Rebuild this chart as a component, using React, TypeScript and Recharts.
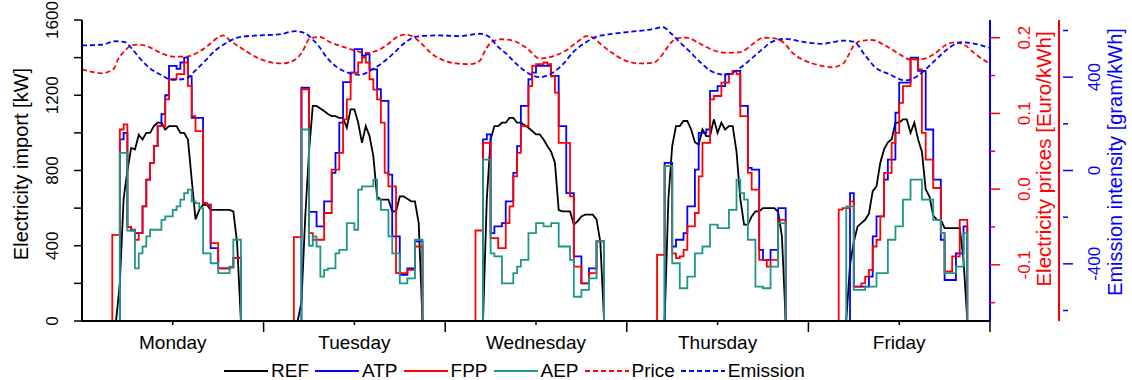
import { Line, LineChart, XAxis, YAxis } from "recharts";

const FONT = '"Liberation Sans", Arial, sans-serif';
const TEAL = "#1f968c";

const PLOT_LEFT = 82;
const PLOT_RIGHT = 990;
const PRICE_AXIS_W = 73;
const EMIS_AXIS_X = PLOT_RIGHT + PRICE_AXIS_W;

const dayNames = ["Monday", "Tuesday", "Wednesday", "Thursday", "Friday"];

// every day is sampled on a half-hour grid from 03:30 to 21:00 (36 values)
const gridStart = 3.5;
const gridStep = 0.5;

// REF
const refMon = [0, 0, 0, 200, 650, 800, 920, 912, 990, 965, 1000, 1000, 1036, 1054, 1054, 1018, 1036, 1036, 1036, 1000, 1000, 965, 752, 540, 591, 618, 618, 591, 591, 591, 591, 591, 591, 583, 414, 0];
const refTue = [0, 0, 0, 100, 550, 900, 1143, 1143, 1130, 1116, 1100, 1089, 1089, 1080, 1080, 1027, 1125, 1125, 1054, 947, 1036, 983, 876, 660, 645, 645, 645, 583, 583, 662, 662, 650, 636, 636, 520, 0];
const refWed = [0, 0, 0, 0, 650, 965, 1036, 1036, 1054, 1054, 1080, 1080, 1054, 1054, 1040, 1027, 1010, 992, 992, 965, 930, 900, 841, 590, 583, 583, 583, 512, 530, 556, 565, 565, 565, 540, 420, 0];
const refThu = [0, 0, 0, 0, 650, 930, 1036, 1036, 1063, 1063, 1018, 950, 938, 1018, 983, 983, 1072, 1000, 1054, 1018, 1036, 1036, 900, 650, 512, 512, 556, 583, 583, 600, 600, 600, 600, 580, 450, 0];
const refFri = [0, 0, 0, 0, 300, 420, 503, 520, 538, 570, 690, 716, 841, 912, 950, 965, 1054, 1054, 1072, 1072, 1000, 1054, 965, 900, 700, 662, 560, 538, 538, 494, 494, 494, 494, 494, 325, 0];

// ATP
const atpMon = [0, 0, 0, 965, 1000, 500, 480, 467, 467, 609, 752, 841, 930, 1036, 1100, 1200, 1356, 1356, 1340, 1374, 1400, 1300, 1080, 1080, 1080, 627, 618, 387, 387, 280, 280, 280, 285, 334, 334, 0];
const atpTue = [0, 0, 0, 1240, 1240, 580, 580, 503, 503, 636, 636, 787, 894, 1054, 1270, 1270, 1320, 1445, 1445, 1410, 1418, 1338, 1338, 1232, 1170, 1170, 778, 450, 450, 245, 245, 280, 280, 423, 423, 0];
const atpWed = [0, 0, 0, 965, 992, 467, 503, 503, 520, 636, 636, 787, 930, 1143, 1143, 1285, 1320, 1356, 1356, 1356, 1356, 1303, 1303, 1036, 1036, 680, 680, 343, 343, 200, 200, 280, 280, 423, 423, 0];
const atpThu = [0, 0, 0, 841, 841, 396, 432, 432, 467, 609, 609, 805, 1000, 1000, 1018, 1223, 1223, 1249, 1249, 1312, 1312, 1330, 1330, 1143, 1143, 814, 805, 805, 378, 325, 325, 378, 378, 600, 600, 0];
const atpFri = [0, 0, 0, 0, 680, 183, 183, 183, 183, 236, 450, 556, 556, 752, 858, 858, 1107, 1267, 1267, 1267, 1400, 1400, 1330, 1330, 1018, 1018, 752, 752, 432, 218, 218, 218, 360, 360, 503, 0];

// FPP
const fppMon = [0, 458, 458, 1018, 1045, 500, 485, 432, 467, 609, 752, 841, 930, 1036, 1036, 1178, 1285, 1285, 1312, 1312, 1374, 1250, 1089, 1009, 1009, 627, 618, 414, 414, 280, 280, 280, 285, 334, 334, 0];
const fppTue = [0, 446, 446, 1232, 1232, 467, 432, 432, 432, 574, 574, 805, 805, 894, 1072, 1178, 1320, 1320, 1374, 1400, 1374, 1285, 1230, 1178, 1054, 787, 716, 716, 254, 254, 254, 272, 272, 396, 396, 0];
const fppWed = [0, 481, 481, 947, 947, 441, 441, 387, 387, 520, 609, 769, 894, 1036, 1036, 1249, 1356, 1365, 1365, 1374, 1365, 1300, 1214, 947, 947, 947, 662, 289, 289, 200, 200, 254, 254, 423, 423, 0];
const fppThu = [0, 352, 352, 823, 823, 360, 334, 343, 378, 503, 503, 574, 769, 947, 947, 1178, 1196, 1196, 1267, 1267, 1312, 1330, 1312, 1089, 1089, 787, 698, 698, 325, 325, 289, 325, 325, 538, 538, 0];
const fppFri = [0, 592, 600, 600, 636, 183, 183, 200, 236, 272, 396, 432, 556, 787, 787, 947, 1000, 1160, 1249, 1249, 1392, 1392, 1338, 1000, 858, 858, 707, 707, 467, 263, 263, 343, 343, 538, 538, 0];

// AEP
const aepMon = [0, 0, 0, 894, 894, 480, 480, 280, 360, 396, 450, 485, 485, 485, 538, 556, 556, 590, 609, 645, 680, 698, 636, 627, 600, 360, 360, 307, 307, 254, 254, 254, 289, 432, 432, 0];
const aepTue = [0, 0, 0, 1018, 1018, 400, 450, 396, 236, 272, 280, 280, 360, 378, 378, 520, 520, 485, 698, 716, 716, 716, 752, 645, 591, 591, 450, 360, 360, 200, 200, 227, 227, 432, 432, 0];
const aepWed = [0, 0, 0, 858, 858, 360, 343, 343, 200, 200, 200, 254, 289, 325, 325, 467, 467, 520, 520, 503, 503, 520, 520, 396, 396, 396, 325, 129, 129, 165, 165, 227, 227, 423, 423, 0];
const aepThu = [0, 0, 0, 823, 823, 307, 307, 174, 174, 236, 236, 360, 360, 396, 396, 512, 512, 494, 494, 494, 591, 591, 752, 680, 645, 432, 432, 183, 183, 174, 174, 289, 289, 520, 520, 0];
const aepFri = [0, 0, 0, 609, 609, 165, 165, 165, 183, 183, 183, 254, 254, 254, 432, 432, 503, 503, 645, 645, 752, 752, 752, 645, 645, 645, 538, 538, 467, 254, 254, 254, 289, 289, 467, 0];

// price [Euro/kWh], hours since Monday 00:00
const priceHours = [0, 1.3, 2.6, 4.2, 4.8, 5.5, 6.6, 7.5, 8.8, 10.6, 12.3, 13.7, 15.4, 16.7, 18.1, 18.7, 19.6, 21.1, 22.9, 24.7, 26.4, 28, 29.1, 30.1, 31.4, 32.8, 34.5, 36.3, 37.6, 38.9, 40.5, 41.8, 42.7, 43.8, 45.1, 46.2, 47.8, 49.5, 51.3, 52.6, 53.3, 54.1, 55.5, 57, 58.8, 60.5, 62.3, 64, 65.4, 66.7, 67.6, 68.5, 70.2, 72, 73.7, 75.5, 76.8, 77.7, 78.6, 79.9, 81.7, 83.4, 85.2, 87, 88.7, 90, 91.6, 92.9, 93.8, 95.5, 97.3, 99.1, 100.6, 101.3, 102, 103, 104.4, 106.1, 107.9, 109.6, 111.4, 112.7, 114.1, 115.4, 116.7, 118, 119.6, 120];
const priceValues = [0.158, 0.155, 0.153, 0.159, 0.172, 0.181, 0.19, 0.191, 0.188, 0.179, 0.175, 0.175, 0.181, 0.19, 0.201, 0.203, 0.196, 0.186, 0.175, 0.168, 0.166, 0.17, 0.181, 0.199, 0.201, 0.194, 0.188, 0.1825, 0.18, 0.1825, 0.192, 0.202, 0.204, 0.201, 0.19, 0.179, 0.17, 0.166, 0.165, 0.17, 0.1835, 0.194, 0.198, 0.196, 0.186, 0.1725, 0.1756, 0.1835, 0.194, 0.202, 0.2, 0.192, 0.179, 0.169, 0.166, 0.167, 0.179, 0.192, 0.199, 0.2, 0.192, 0.1835, 0.18, 0.181, 0.192, 0.2, 0.199, 0.192, 0.181, 0.17, 0.164, 0.161, 0.166, 0.177, 0.19, 0.196, 0.197, 0.19, 0.179, 0.171, 0.1725, 0.179, 0.19, 0.194, 0.19, 0.179, 0.168, 0.166];

// emission intensity [gram/kWh]
const emissionHours = [0, 2.6, 4.4, 5.7, 6.6, 7.7, 8.8, 10.6, 11.9, 13.7, 15, 16.3, 17.6, 18.9, 20.7, 23.3, 26, 28.2, 29.5, 30.4, 31.4, 32.3, 33.7, 35, 36.7, 38.5, 39.8, 41.1, 42.5, 44.2, 46.9, 50, 52.6, 53.9, 54.8, 56.1, 57.4, 58.8, 60.5, 62.3, 63.6, 64.9, 66.3, 68, 70.2, 72.9, 75.1, 76.8, 77.9, 79, 80.4, 81.7, 83, 84.8, 86.1, 87.4, 88.7, 90, 91.1, 92.9, 95.5, 97.7, 100.8, 102.1, 103.5, 104.8, 106.6, 108.8, 110.5, 111.8, 113.2, 114.7, 116.3, 118, 120];
const emissionValues = [536, 539, 554, 550, 522, 479, 443, 407, 389, 393, 429, 471, 514, 543, 571, 579, 583, 597, 588, 564, 528, 486, 443, 421, 410, 436, 464, 500, 543, 574, 579, 576, 586, 571, 536, 500, 457, 421, 400, 421, 457, 507, 543, 574, 586, 596, 604, 614, 586, 550, 507, 464, 429, 411, 421, 450, 486, 522, 550, 564, 550, 543, 557, 550, 493, 443, 414, 386, 407, 443, 486, 528, 550, 543, 525];

const kwTicks = [0, 200, 400, 600, 800, 1000, 1200, 1400, 1600];
const priceTicks = [-0.15, -0.1, -0.05, 0, 0.05, 0.1, 0.15, 0.2];
const emissionTicks = [-600, -400, -200, 0, 200, 400, 600];
const dayTicks = [12, 24, 36, 48, 60, 72, 84, 96, 108, 120];

const refDays = [refMon, refTue, refWed, refThu, refFri];
const atpDays = [atpMon, atpTue, atpWed, atpThu, atpFri];
const fppDays = [fppMon, fppTue, fppWed, fppThu, fppFri];
const aepDays = [aepMon, aepTue, aepWed, aepThu, aepFri];

function valueAt(days: number[][], t: number) {
  const d = Math.floor(t / 24);
  const arr = days[d];
  const i = Math.round((t - d * 24 - gridStart) / gridStep);
  if (!arr || i < 0 || i >= arr.length) return 0;
  return arr[i];
}

const weekData: { t: number; REF: number; ATP: number; FPP: number; AEP: number }[] = [];
for (let k = 0; k <= 240; k++) {
  const t = k * gridStep;
  weekData.push({
    t,
    REF: valueAt(refDays, t),
    ATP: valueAt(atpDays, t),
    FPP: valueAt(fppDays, t),
    AEP: valueAt(aepDays, t),
  });
}

const priceData = priceHours.map((t, i) => ({ t, price: priceValues[i] }));
const emissionData = emissionHours.map((t, i) => ({ t, emission: emissionValues[i] }));

const legendItems = [
  { name: "REF", color: "#000000", dash: undefined },
  { name: "ATP", color: "#0000ff", dash: undefined },
  { name: "FPP", color: "#ff0000", dash: undefined },
  { name: "AEP", color: TEAL, dash: undefined },
  { name: "Price", color: "#ff0000", dash: "5 3" },
  { name: "Emission", color: "#0000ff", dash: "5 3" },
];

function rotLabel(x: number, y: number, text: string, color: string, size: number) {
  return (
    <text
      x={x}
      y={y}
      transform={`rotate(-90 ${x} ${y})`}
      textAnchor="middle"
      fontSize={size}
      fontFamily={FONT}
      fill={color}
    >
      {text}
    </text>
  );
}

function KwTick(props: any) {
  const { y, payload } = props;
  return (
    <g>
      <line x1={PLOT_LEFT - 8} x2={PLOT_LEFT} y1={y} y2={y} stroke="#000" strokeWidth={1.5} />
      {payload.value % 400 === 0 && rotLabel(58, y, String(payload.value), "#000", 17)}
    </g>
  );
}

function PriceTick(props: any) {
  const { y, payload } = props;
  const v = payload.value as number;
  const major = Math.abs(v * 10 - Math.round(v * 10)) < 1e-6;
  return (
    <g>
      <line x1={PLOT_RIGHT} x2={PLOT_RIGHT + (major ? 10 : 5)} y1={y} y2={y} stroke="#ff0000" strokeWidth={1.5} />
      {major && rotLabel(1030, y, v.toFixed(1), "#ff0000", 17)}
    </g>
  );
}

function EmissionTick(props: any) {
  const { y, payload } = props;
  const v = payload.value as number;
  const major = v % 400 === 0;
  return (
    <g>
      <line x1={EMIS_AXIS_X} x2={EMIS_AXIS_X + (major ? 10 : 5)} y1={y} y2={y} stroke="#0000ff" strokeWidth={1.5} />
      {major && rotLabel(1100, y, String(v), "#0000ff", 17)}
    </g>
  );
}

function DayTick(props: any) {
  const { x, payload } = props;
  const v = payload.value as number;
  const boundary = v % 24 === 0;
  return (
    <g>
      <line x1={x} x2={x} y1={321} y2={boundary ? 332 : 325} stroke="#000" strokeWidth={1.5} />
      {!boundary && (
        <text x={x} y={349} textAnchor="middle" fontSize={19} fontFamily={FONT} fill="#000">
          {dayNames[Math.floor(v / 24)]}
        </text>
      )}
    </g>
  );
}

export default function App() {
  return (
    <div style={{ position: "absolute", left: 0, top: 0, width: 1132, height: 380, background: "#fff" }}>
      <LineChart
        width={1132}
        height={380}
        data={weekData}
        margin={{ top: 20, right: 0, bottom: 29, left: 0 }}
      >
        <XAxis
          dataKey="t"
          type="number"
          domain={[0, 120]}
          ticks={dayTicks}
          interval={0}
          height={30}
          allowDataOverflow
          tickLine={false}
          axisLine={{ stroke: "#000", strokeWidth: 2 }}
          tick={(p: any) => <DayTick {...p} />}
        />
        <YAxis
          yAxisId="kw"
          orientation="left"
          width={82}
          domain={[0, 1600]}
          ticks={kwTicks}
          interval={0}
          allowDataOverflow
          tickLine={false}
          axisLine={{ stroke: "#000", strokeWidth: 2 }}
          tick={(p: any) => <KwTick {...p} />}
        />
        <YAxis
          yAxisId="price"
          orientation="right"
          width={PRICE_AXIS_W}
          domain={[-0.1742, 0.2234]}
          ticks={priceTicks}
          interval={0}
          allowDataOverflow
          tickLine={false}
          axisLine={{ stroke: "#ff0000", strokeWidth: 2 }}
          tick={(p: any) => <PriceTick {...p} />}
        />
        <YAxis
          yAxisId="em"
          orientation="right"
          width={69}
          domain={[-645, 645]}
          ticks={emissionTicks}
          interval={0}
          allowDataOverflow
          tickLine={false}
          axisLine={{ stroke: "#0000ff", strokeWidth: 2 }}
          tick={(p: any) => <EmissionTick {...p} />}
        />
        <Line yAxisId="kw" type="linear" dataKey="REF" stroke="#000000" strokeWidth={1.8} dot={false} activeDot={false} isAnimationActive={false} />
        <Line yAxisId="kw" type="stepAfter" dataKey="ATP" stroke="#0000ff" strokeWidth={1.8} dot={false} activeDot={false} isAnimationActive={false} />
        <Line yAxisId="kw" type="stepAfter" dataKey="FPP" stroke="#ff0000" strokeWidth={1.8} dot={false} activeDot={false} isAnimationActive={false} />
        <Line yAxisId="kw" type="stepAfter" dataKey="AEP" stroke={TEAL} strokeWidth={1.8} dot={false} activeDot={false} isAnimationActive={false} />
        <Line yAxisId="price" data={priceData} type="monotone" dataKey="price" stroke="#ff0000" strokeWidth={1.8} strokeDasharray="5 3" dot={false} activeDot={false} isAnimationActive={false} />
        <Line yAxisId="em" data={emissionData} type="monotone" dataKey="emission" stroke="#0000ff" strokeWidth={1.8} strokeDasharray="5 3" dot={false} activeDot={false} isAnimationActive={false} />
      </LineChart>

      <svg width={1132} height={380} style={{ position: "absolute", left: 0, top: 0, pointerEvents: "none" }}>
        {rotLabel(28, 164, "Electricity import [kW]", "#000", 20)}
        {rotLabel(1051, 159, "Electricity prices [Euro/kWh]", "#ff0000", 20.5)}
        {rotLabel(1122, 162, "Emission intensity [gram/kWh]", "#0000ff", 20)}
      </svg>

      <div
        style={{
          position: "absolute",
          left: 224,
          top: 360,
          height: 22,
          display: "flex",
          alignItems: "center",
          fontFamily: FONT,
          fontSize: 19,
          color: "#000",
          whiteSpace: "nowrap",
        }}
      >
        {legendItems.map((it) => (
          <div key={it.name} style={{ display: "flex", alignItems: "center", marginRight: 6 }}>
            <svg width={44} height={10}>
              <line x1={0} x2={44} y1={5} y2={5} stroke={it.color} strokeWidth={2} strokeDasharray={it.dash} />
            </svg>
            <span style={{ marginLeft: 3 }}>{it.name}</span>
          </div>
        ))}
      </div>
    </div>
  );
}
